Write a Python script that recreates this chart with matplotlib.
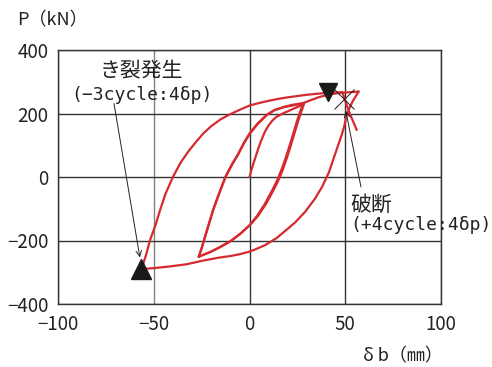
import matplotlib
matplotlib.use("Agg")
import matplotlib.pyplot as plt

plt.rcParams['font.family'] = ['Noto Sans CJK JP', 'DejaVu Sans']

# ---- data (displacement δb in mm, load P in kN) ----
virgin_x = [0, 1, 2, 3, 4.5, 6, 8, 10, 12, 14, 17, 20, 23, 26, 28]
virgin_p = [0, 22, 42, 60, 88, 113, 142, 163, 178, 189, 199, 207, 215, 223, 230]

unload1_x = [28, 27, 25, 23, 21, 19, 17, 14.5, 12, 8, 4, 0, -5, -10, -15, -20, -26.5]
unload1_p = [230, 215, 180, 140, 100, 62, 28, -10, -40, -85, -122, -152, -180, -203, -220, -235, -251]

reload1_x = [-26.5, -25, -23, -21, -19, -16, -12.5, -9, -6, -3, 0, 4, 9, 13, 18, 23, 28]
reload1_p = [-251, -225, -185, -145, -105, -55, 0, 40, 70, 105, 135, 165, 195, 210, 220, 226, 231]

unload2_x = [28.5, 27.5, 25.5, 23.5, 21.5, 19.5, 17.5, 15, 12.5, 8.5, 4.5, 0.5, -4.5, -9.5, -15, -20, -26.5]
unload2_p = [231, 214, 178, 138, 98, 60, 25, -12, -42, -86, -122, -150, -177, -200, -219, -235, -251]

reload2_x = [-26.5, -25, -23, -21, -19, -16, -12.5, -9, -6, -3, 0, 4, 9, 13, 18, 23, 28, 32, 36, 41, 46, 52, 57]
reload2_p = [-251, -224, -183, -143, -103, -53, 2, 42, 72, 107, 137, 167, 196, 211, 221, 228, 233, 242, 251, 259, 264, 267, 269]

outer_lower_x = [57, 54, 52, 50.5, 49.5, 48, 46, 44, 41.5, 38, 34, 29, 24, 19, 14, 8, 3, 0, -5, -10, -16, -24, -33, -42, -50, -56.4]
outer_lower_p = [269, 240, 215, 190, 160, 130, 95, 60, 15, -30, -70, -110, -142, -168, -193, -215, -228, -235, -243, -249, -254, -263, -275, -282, -287, -290]

outer_upper_x = [-56.4, -54, -52, -49, -47, -44, -40, -36, -32, -28, -24, -20, -15, -10, -5, 0, 5, 10, 15, 20, 25, 30, 35, 41, 48.5]
outer_upper_p = [-290, -245, -200, -150, -110, -55, 0, 45, 80, 110, 138, 160, 182, 198, 212, 225, 233, 240, 246, 251, 255, 259, 262, 265, 267]

fracture_x = [48.5, 52, 56]
fracture_p = [267, 205, 148]

crack_pt = (-56.4, -290)
peak_pt = (41, 269)
break_pt = (49.5, 245)

x_ticks = [-100, -50, 0, 50, 100]
y_ticks = [-400, -200, 0, 200, 400]
x_ticklabels = ['−100', '−50', '0', '50', '100']
y_ticklabels = ['−400', '−200', '0', '200', '400']

RED = '#d52a30'
INK = '#222222'
MONO = ['DejaVu Sans Mono', 'Noto Sans CJK JP']

fig = plt.figure(figsize=(4.92, 3.67), dpi=100)
ax = fig.add_axes([58/492, 63/367, 383/492, 254/367])

ax.set_xlim(-100, 100)
ax.set_ylim(-400, 400)
ax.set_xticks(x_ticks)
ax.set_yticks(y_ticks)
ax.set_xticklabels(x_ticklabels)
ax.set_yticklabels(y_ticklabels)
ax.tick_params(length=0, labelsize=13.5, pad=7, colors=INK)
ax.grid(True, color='#333333', lw=1.0)
ax.get_xgridlines()[1].set_color('#808080')
for s in ax.spines.values():
    s.set_color('#333333')
    s.set_linewidth(1.0)
ax.set_axisbelow(True)

branches = [(virgin_x, virgin_p), (unload1_x, unload1_p), (reload1_x, reload1_p),
            (unload2_x, unload2_p), (reload2_x, reload2_p),
            (outer_lower_x, outer_lower_p), (outer_upper_x, outer_upper_p),
            (fracture_x, fracture_p)]
for bx, bp in branches:
    ax.plot(bx, bp, color=RED, lw=1.6, solid_joinstyle='round', solid_capstyle='round')

ax.plot(*crack_pt, marker='^', ms=14, color='#1a1a1a', ls='none', clip_on=False)
ax.plot(*peak_pt, marker='v', ms=13, color='#1a1a1a', ls='none', clip_on=False)
ax.plot(*break_pt, marker='x', ms=15, mew=0.7, color='#1a1a1a', ls='none')

ax.text(-56.4, 331, 'き裂発生', ha='center', va='center', fontsize=15, color=INK)
ax.text(-56.4, 258, '(−3cycle:4δp)', ha='center', va='center', fontsize=13,
        color=INK, family=MONO)
ax.annotate('', xy=(-57, -262), xytext=(-71, 240),
            arrowprops=dict(arrowstyle='->', lw=0.7, color=INK))

ax.text(52.7, -88, '破断', ha='left', va='center', fontsize=15, color=INK)
ax.text(52.7, -151, '(+4cycle:4δp)', ha='left', va='center', fontsize=13,
        color=INK, family=MONO)
ax.annotate('', xy=(50, 217), xytext=(58.5, -40),
            arrowprops=dict(arrowstyle='->', lw=0.7, color=INK))

fig.text(17/492, 1 - 20/367, 'P（kN）', ha='left', va='center', fontsize=13, color=INK)
fig.text(363/492, 1 - 356/367, 'δ b（㎜）', ha='left', va='center', fontsize=13, color=INK)

fig.savefig('out.png', dpi=100)
